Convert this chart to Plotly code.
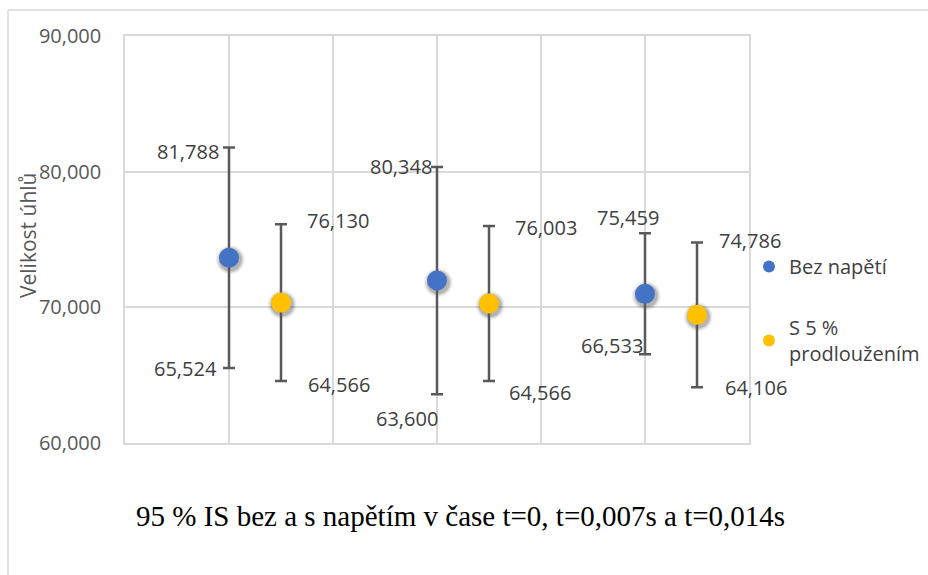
import plotly.graph_objects as go

# 95 % confidence intervals (lower / upper) for three time instants
positions_blue = [1, 3, 5]
positions_orange = [1.5, 3.5, 5.5]
bez_lower = [65.524, 63.600, 66.533]
bez_upper = [81.788, 80.348, 75.459]
s5_lower = [64.566, 64.566, 64.106]
s5_upper = [76.130, 76.003, 74.786]

series_names = ["Bez napětí", "S 5 %<br>prodloužením"]
y_ticks = [60, 70, 80, 90]
chart_title = "95 % IS bez a s napětím v čase t=0, t=0,007s a t=0,014s"
y_title = "Velikost úhlů"

BLUE = "#4472C4"
ORANGE = "#FFC000"
BAR = "#595959"
GRID = "#D9D9D9"
LABEL = "#404040"
FONT = "Open Sans"


def mid(lo, hi):
    return [(a + b) / 2 for a, b in zip(lo, hi)]


def half(lo, hi):
    return [(b - a) / 2 for a, b in zip(lo, hi)]


def fmt(v):
    return f"{v:.3f}".replace(".", ",")


fig = go.Figure()

# soft drop shadows under the markers
for xs, lo, hi in [(positions_blue, bez_lower, bez_upper),
                   (positions_orange, s5_lower, s5_upper)]:
    ys = mid(lo, hi)
    for size, alpha in [(29, 0.06), (26, 0.10), (23, 0.16)]:
        fig.add_trace(go.Scatter(
            x=[x + 0.012 for x in xs], y=[y - 0.15 for y in ys],
            mode="markers", showlegend=False, hoverinfo="skip",
            marker=dict(size=size, color=f"rgba(0,0,0,{alpha})", line=dict(width=0)),
        ))

for xs, lo, hi, name, color in [
    (positions_blue, bez_lower, bez_upper, series_names[0], BLUE),
    (positions_orange, s5_lower, s5_upper, series_names[1], ORANGE),
]:
    fig.add_trace(go.Scatter(
        x=xs, y=mid(lo, hi), mode="markers", name=name,
        marker=dict(size=20, color=color, line=dict(width=0)),
        error_y=dict(type="data", symmetric=True, array=half(lo, hi),
                     color=BAR, thickness=2.5, width=6),
        legendgroup=name,
    ))

# label placement: (xanchor, xshift, yshift) for lower / upper labels
place_bez_upper = [("right", -8, -4), ("right", -3, 0), ("center", -17, 16)]
place_bez_lower = [("right", -10, 0), ("center", -30, -24), ("right", 0, 9)]
place_s5_upper = [("left", 24, 4), ("left", 24, -2), ("left", 20, 2)]
place_s5_lower = [("left", 25, -3), ("left", 18, -11), ("left", 26, 0)]

annotations = []
for xs, vals, places in [
    (positions_blue, bez_upper, place_bez_upper),
    (positions_blue, bez_lower, place_bez_lower),
    (positions_orange, s5_upper, place_s5_upper),
    (positions_orange, s5_lower, place_s5_lower),
]:
    for x, v, (anchor, dx, dy) in zip(xs, vals, places):
        annotations.append(dict(
            x=x, y=v, xref="x", yref="y", text=fmt(v), showarrow=False,
            xanchor=anchor, yanchor="middle", xshift=dx, yshift=dy,
            font=dict(family=FONT, size=20, color=LABEL),
        ))

annotations.append(dict(
    x=(28 - 125) / 624, y=(443 - 236) / 407, xref="paper", yref="paper",
    text=y_title, textangle=-90, showarrow=False,
    xanchor="center", yanchor="middle",
    font=dict(family=FONT, size=21, color="#595959"),
))
annotations.append(dict(
    x=(460 - 125) / 624, y=(443 - 516) / 407, xref="paper", yref="paper",
    text=chart_title, showarrow=False, xanchor="center", yanchor="middle",
    font=dict(family="Liberation Serif", size=29, color="#000000"),
))

fig.update_layout(
    width=928, height=575,
    margin=dict(l=125, r=179, t=36, b=132, autoexpand=False),
    paper_bgcolor="white", plot_bgcolor="white",
    separators=", ",
    showlegend=True,
    legend=dict(x=749 / 928, y=(575 - 247) / 575,
                xref="container", yref="container",
                xanchor="left", yanchor="top",
                font=dict(family=FONT, size=20, color=LABEL),
                tracegroupgap=32, itemsizing="constant",
                bgcolor="rgba(0,0,0,0)"),
    annotations=annotations,
    shapes=[
        dict(type="line", xref="paper", yref="paper",
             x0=(8 - 125) / 624, x1=2, y0=(443 - 10) / 407, y1=(443 - 10) / 407,
             line=dict(color=GRID, width=1.5)),
        dict(type="line", xref="paper", yref="paper",
             x0=(8 - 125) / 624, x1=(8 - 125) / 624, y0=(443 - 10) / 407, y1=-1,
             line=dict(color=GRID, width=1.5)),
    ],
)

fig.update_xaxes(range=[0, 6], dtick=1, tick0=0, showgrid=True, gridcolor=GRID,
                 gridwidth=1.5, showticklabels=False, zeroline=False,
                 showline=True, linecolor=GRID, linewidth=1.5, mirror=True,
                 ticks="", automargin=False)
fig.update_yaxes(range=[60, 90], tickvals=y_ticks, tickformat=".3f",
                 showgrid=True, gridcolor=GRID, gridwidth=1.5, zeroline=False,
                 showline=True, linecolor=GRID, linewidth=1.5, mirror=True,
                 ticks="", ticklabelstandoff=18, automargin=False,
                 tickfont=dict(family=FONT, size=20, color="#595959"))

fig.write_html("out.html")
